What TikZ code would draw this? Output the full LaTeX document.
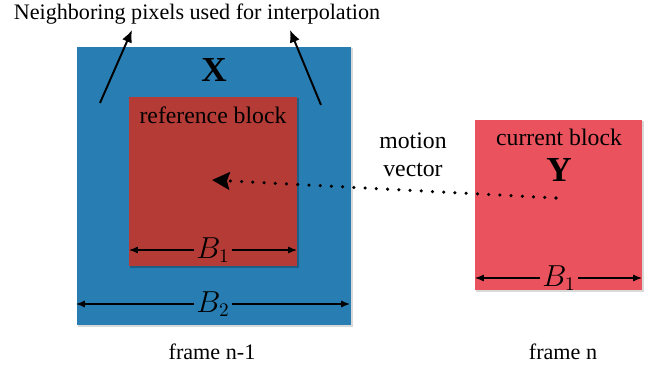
\documentclass[tikz,border=0pt]{standalone}
\usepackage{fontspec}
\setmainfont{Liberation Serif}
\usetikzlibrary{arrows.meta}
\definecolor{outerblue}{RGB}{40,126,178}
\definecolor{refred}{RGB}{181,59,54}
\definecolor{curred}{RGB}{234,83,93}
\tikzset{
	dimarrow/.style={-{Latex[length=5pt,width=4pt]},line width=0.7pt},
	pointer/.style={-{Latex[length=7pt,width=6pt]},line width=1.1pt},
	mvline/.style={line width=2pt,line cap=round,dash pattern=on 0pt off 6.4pt,-{Stealth[length=10pt,width=10pt,inset=1.5pt]}},
	dimlabel/.style={inner sep=1pt,font=\fontsize{16}{18}\selectfont},
	txt/.style={font=\fontsize{13.5}{15}\selectfont,inner sep=0pt}
}
\begin{document}
\begin{tikzpicture}[x=0.02cm,y=-0.02cm]
		\useasboundingbox (0,0) rectangle (656,368);
		% blocks
		\fill[black!15] (78,48) rectangle (353,327);
		\fill[outerblue] (77,47) rectangle (351,325);
		\fill[outerblue!75!black] (130,98) rectangle (299,268);
		\fill[refred] (129,97) rectangle (297,266);
		\fill[black!15] (476,121) rectangle (644,292);
		\fill[curred] (475,120) rectangle (642,290);
		% labels
		\node[txt,font=\fontsize{12.6}{14}\selectfont] (title) at (197,14) {Neighboring pixels used for interpolation};
		\node[inner sep=0pt] (X) at (214,70) {\fontsize{20}{22}\selectfont$\mathbf{X}$};
		\node[txt] (ref) at (213,115) {reference block};
		\node[txt] (cur) at (559,137) {current block};
		\node[inner sep=0pt] (Y) at (559,170) {\fontsize{20}{22}\selectfont$\mathbf{Y}$};
		\node[txt,align=center] (mv) at (413,155) {motion\\[1pt]vector};
		\node[txt,font=\fontsize{12.6}{14}\selectfont] (fprev) at (212,352) {frame n-1};
		\node[txt,font=\fontsize{12.6}{14}\selectfont] (fcur) at (563,352) {frame n};
		% neighbouring pixel pointers
		\coordinate (nl) at (100,103);
		\coordinate (nr) at (321,105);
		\coordinate (tl) at (132,30);
		\coordinate (tr) at (290,30);
		\draw[pointer] (nl) -- (tl);
		\draw[pointer] (nr) -- (tr);
		% motion vector
		\coordinate (mvs) at (556,198);
		\coordinate (mve) at (212,180);
		\draw[mvline] (mvs) -- (mve);
		% widths
		\node[dimlabel] (b1ref) at (213,250) {$B_1$};
		\coordinate (b1refl) at (129,250);
		\coordinate (b1refr) at (297,250);
		\draw[dimarrow] (b1ref) -- (b1refl);
		\draw[dimarrow] (b1ref) -- (b1refr);
		\node[dimlabel] (b2) at (213,304) {$B_2$};
		\coordinate (b2l) at (76,304);
		\coordinate (b2r) at (350,304);
		\draw[dimarrow] (b2) -- (b2l);
		\draw[dimarrow] (b2) -- (b2r);
		\node[dimlabel] (b1cur) at (559,278) {$B_1$};
		\coordinate (b1curl) at (475,278);
		\coordinate (b1curr) at (642,278);
		\draw[dimarrow] (b1cur) -- (b1curl);
		\draw[dimarrow] (b1cur) -- (b1curr);
		\end{tikzpicture}
\end{document}
